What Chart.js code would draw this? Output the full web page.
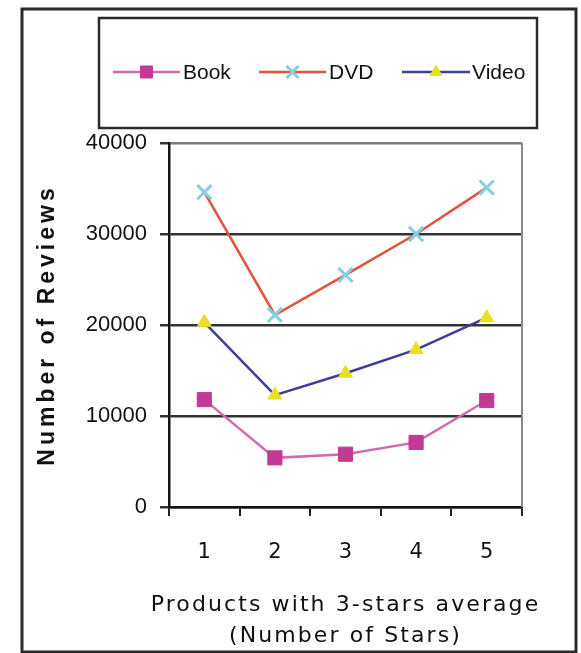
<!DOCTYPE html>
<html>
<head>
<meta charset="utf-8">
<script src="https://cdn.jsdelivr.net/npm/chart.js@4/dist/chart.umd.min.js"></script>
<style>
  html, body { margin: 0; padding: 0; background: #ffffff; }
  #wrap { width: 581px; height: 653px; }
</style>
</head>
<body>
<div id="wrap"><canvas id="chart" width="581" height="653"></canvas></div>
<script>
// Star ratings on the x axis and review counts for each product type
const starLabels = ['1', '2', '3', '4', '5'];
const bookReviews = [11800, 5400, 5800, 7100, 11700];
const dvdReviews = [34600, 21100, 25500, 30000, 35100];
const videoReviews = [20300, 12300, 14700, 17300, 20800];
const yTicks = [0, 10000, 20000, 30000, 40000];

// Outer frame, legend box and the plot's light border
const decorPlugin = {
  id: 'decor',
  beforeDraw(chart) {
    const ctx = chart.ctx;
    ctx.save();
    ctx.fillStyle = '#ffffff';
    ctx.fillRect(0, 0, chart.width, chart.height);
    ctx.strokeStyle = '#2a2a2a';
    ctx.lineWidth = 3;
    ctx.strokeRect(22, 9, 554, 643);
    ctx.restore();

    // wrap the axis title drawing: letter spacing, and let the x title
    // run wider than the plot area
    ['x', 'y'].forEach(id => {
      const s = chart.scales[id];
      if (s && !s._spaced) {
        const orig = s.drawTitle;
        const spacing = id === 'x' ? '2.1px' : '4px';
        const widen = id === 'x' ? 80 : 0;
        s.drawTitle = function () {
          const c = this.ctx;
          const prev = c.letterSpacing;
          c.letterSpacing = spacing;
          this.left -= widen;
          this.right += widen;
          orig.apply(this, arguments);
          this.left += widen;
          this.right -= widen;
          c.letterSpacing = prev || '0px';
        };
        s._spaced = true;
      }
    });
  },
  afterDraw(chart) {
    const ctx = chart.ctx;
    const area = chart.chartArea;
    ctx.save();
    // right edge of the plot area
    ctx.strokeStyle = '#8a8a8a';
    ctx.lineWidth = 2;
    ctx.beginPath();
    ctx.moveTo(area.right, area.top);
    ctx.lineTo(area.right, area.bottom);
    ctx.stroke();

    // legend box
    ctx.strokeStyle = '#2a2a2a';
    ctx.lineWidth = 2.5;
    ctx.strokeRect(99, 18, 438, 110);

    const cy = 72;
    const items = [
      { x0: 113, x1: 180, tx: 183 },
      { x0: 259, x1: 326, tx: 329 },
      { x0: 402, x1: 470, tx: 472 }
    ];
    ctx.font = '21px "Liberation Sans", Arial, sans-serif';
    ctx.textBaseline = 'middle';
    ctx.textAlign = 'left';
    chart.data.datasets.forEach((ds, i) => {
      const it = items[i];
      ctx.strokeStyle = ds.borderColor;
      ctx.lineWidth = 2.5;
      ctx.beginPath();
      ctx.moveTo(it.x0, cy);
      ctx.lineTo(it.x1, cy);
      ctx.stroke();
      ctx.fillStyle = ds.pointBackgroundColor;
      ctx.strokeStyle = ds.pointBorderColor;
      ctx.lineWidth = ds.pointBorderWidth;
      Chart.helpers.drawPoint(ctx, {
        pointStyle: ds.pointStyle,
        radius: ds.pointRadius * 0.85,
        rotation: 0,
        borderWidth: ds.pointBorderWidth
      }, (it.x0 + it.x1) / 2, cy);
      ctx.fillStyle = '#111111';
      ctx.fillText(ds.label, it.tx, cy + 1);
    });
    ctx.restore();
  }
};

new Chart(document.getElementById('chart'), {
  type: 'line',
  data: {
    labels: starLabels,
    datasets: [
      {
        label: 'Book',
        data: bookReviews,
        borderColor: '#d46aae',
        borderWidth: 2.5,
        pointStyle: 'rect',
        pointRadius: 10,
        pointBackgroundColor: '#c23a94',
        pointBorderColor: '#c23a94',
        pointBorderWidth: 1
      },
      {
        label: 'DVD',
        data: dvdReviews,
        borderColor: '#e0533e',
        borderWidth: 2.5,
        pointStyle: 'crossRot',
        pointRadius: 10,
        pointBackgroundColor: '#86cfe0',
        pointBorderColor: '#86cfe0',
        pointBorderWidth: 3
      },
      {
        label: 'Video',
        data: videoReviews,
        borderColor: '#3e3e98',
        borderWidth: 2.5,
        pointStyle: 'triangle',
        pointRadius: 8,
        pointBackgroundColor: '#e8e020',
        pointBorderColor: '#e8e020',
        pointBorderWidth: 1
      }
    ]
  },
  options: {
    responsive: false,
    animation: false,
    events: [],
    layout: { padding: { top: 143, right: 59, bottom: 0, left: 0 } },
    plugins: {
      legend: { display: false },
      tooltip: { enabled: false }
    },
    scales: {
      x: {
        offset: true,
        grid: {
          offset: true,
          drawOnChartArea: false,
          drawTicks: true,
          tickLength: 9,
          color: '#222222',
          lineWidth: 2
        },
        border: { display: true, color: '#151515', width: 2.5 },
        ticks: {
          color: '#111111',
          padding: 24,
          font: { family: '"DejaVu Sans", sans-serif', size: 21 }
        },
        title: {
          display: true,
          text: ['Products with 3-stars average', '(Number of Stars)'],
          color: '#111111',
          font: { family: '"DejaVu Sans", sans-serif', size: 22, lineHeight: 1.41 },
          padding: { top: 0, bottom: 1.5 }
        },
        afterFit(scale) { scale.height = 146; }
      },
      y: {
        min: 0,
        max: 40000,
        afterBuildTicks(scale) { scale.ticks = yTicks.map(v => ({ value: v })); },
        grid: {
          drawTicks: true,
          tickLength: 9,
          color: ctx => (ctx.tick && ctx.tick.value === 40000 ? '#7a7a7a' : '#333333'),
          tickColor: '#333333',
          lineWidth: 2.5
        },
        border: { display: true, color: '#151515', width: 2.5 },
        ticks: {
          color: '#111111',
          padding: 13,
          font: { family: '"Liberation Sans", Arial, sans-serif', size: 22 },
          callback: v => String(v)
        },
        title: {
          display: true,
          text: 'Number of Reviews',
          color: '#111111',
          font: { family: '"Liberation Sans", Arial, sans-serif', size: 23, weight: 'bold', lineHeight: 1.2 },
          padding: { top: 34, bottom: 0 }
        },
        afterFit(scale) { scale.width = 169; }
      }
    }
  },
  plugins: [decorPlugin]
});
</script>
</body>
</html>
